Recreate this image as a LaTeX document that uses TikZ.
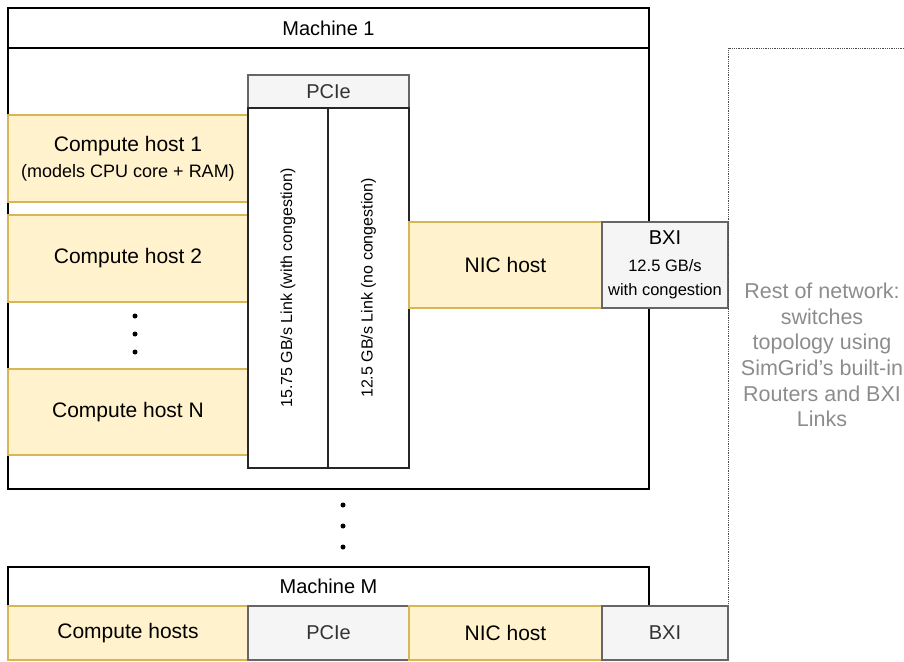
\documentclass[tikz,border=0pt]{standalone}
\usepackage{fontspec}
\setmainfont{Liberation Sans}
\definecolor{hostfill}{HTML}{FFF2CC}
\definecolor{hostline}{HTML}{D6B656}
\definecolor{grayfill}{HTML}{F5F5F5}
\definecolor{grayline}{HTML}{666666}
\definecolor{notegray}{HTML}{8C8C8C}
\begin{document}
\begin{tikzpicture}[x=1pt,y=-1pt,
  box/.style={draw,line width=1.3pt,anchor=north west,inner sep=0pt,outer sep=0pt},
  host/.style={box,draw=hostline,fill=hostfill,font=\fontsize{21}{25}\selectfont,align=center},
  part/.style={box,draw=grayline,fill=grayfill,text=black!80,font=\fontsize{20}{24}\selectfont,align=center},
  link/.style={box,draw=black!85,fill=white,line width=1.1pt},
  dot/.style={circle,fill=black,inner sep=0pt,minimum size=5pt}]
\useasboundingbox (0,0) rectangle (904,661);
% machine 1
\node [box,minimum width=641pt,minimum height=441pt] (body1) at (8,48) {};
\node [box,minimum width=641pt,minimum height=40pt,font=\fontsize{20}{24}\selectfont] (mach1) at (8,8) {Machine 1};
\node [host,minimum width=240pt,minimum height=87pt] (ch1) at (8,115)
  {Compute host 1\\[1pt]\fontsize{18}{22}\selectfont (models CPU core + RAM)};
\node [host,minimum width=240pt,minimum height=87pt] (ch2) at (8,215) {Compute host 2};
\node [host,minimum width=240pt,minimum height=86pt] (chN) at (8,369) {Compute host N};
\node [dot] (d1) at (135,316) {};
\node [dot] (d2) at (135,334) {};
\node [dot] (d3) at (135,352) {};
% pcie
\node [part,minimum width=161pt,minimum height=33pt] (pcie) at (248,75) {PCIe};
\node [link,minimum width=80pt,minimum height=360pt] (lnk1) at (248,108) {};
\node [link,minimum width=81pt,minimum height=360pt] (lnk2) at (328,108) {};
\node [rotate=90,font=\fontsize{16}{19}\selectfont] at (lnk1.center) {15.75 GB/s Link (with congestion)};
\node [rotate=90,font=\fontsize{16}{19}\selectfont] at (lnk2.center) {12.5 GB/s Link (no congestion)};
\node [host,minimum width=193pt,minimum height=86pt] (nic) at (409,222) {NIC host};
\node [part,minimum width=126pt,minimum height=86pt,text=black] (bxi) at (602,222)
  {BXI\\[3pt]\fontsize{16.5}{26}\selectfont 12.5 GB/s\\\fontsize{16.5}{26}\selectfont with congestion};
% rest of network
\coordinate (cnr) at (728,48);
\coordinate (edge) at (904,48);
\coordinate (foot) at (728,606);
\draw [densely dotted,black!70,line width=0.8pt] (edge) -- (cnr) -- (foot);
\node [text=notegray,align=center,font=\fontsize{21.5}{25.6}\selectfont] (rest) at (822,355)
  {Rest of network:\\switches\\topology using\\SimGrid's built-in\\Routers and BXI\\Links};
\node [dot] (e1) at (343,505) {};
\node [dot] (e2) at (343,526) {};
\node [dot] (e3) at (343,547) {};
% machine M
\node [box,minimum width=641pt,minimum height=39pt,font=\fontsize{20}{24}\selectfont] (machM) at (8,567) {Machine M};
\node [host,minimum width=240pt,minimum height=54pt] (chM) at (8,606) {Compute hosts};
\node [part,minimum width=161pt,minimum height=54pt] (pcieM) at (248,606) {PCIe};
\node [host,minimum width=193pt,minimum height=54pt] (nicM) at (409,606) {NIC host};
\node [part,minimum width=126pt,minimum height=54pt] (bxiM) at (602,606) {BXI};
\end{tikzpicture}
\end{document}
